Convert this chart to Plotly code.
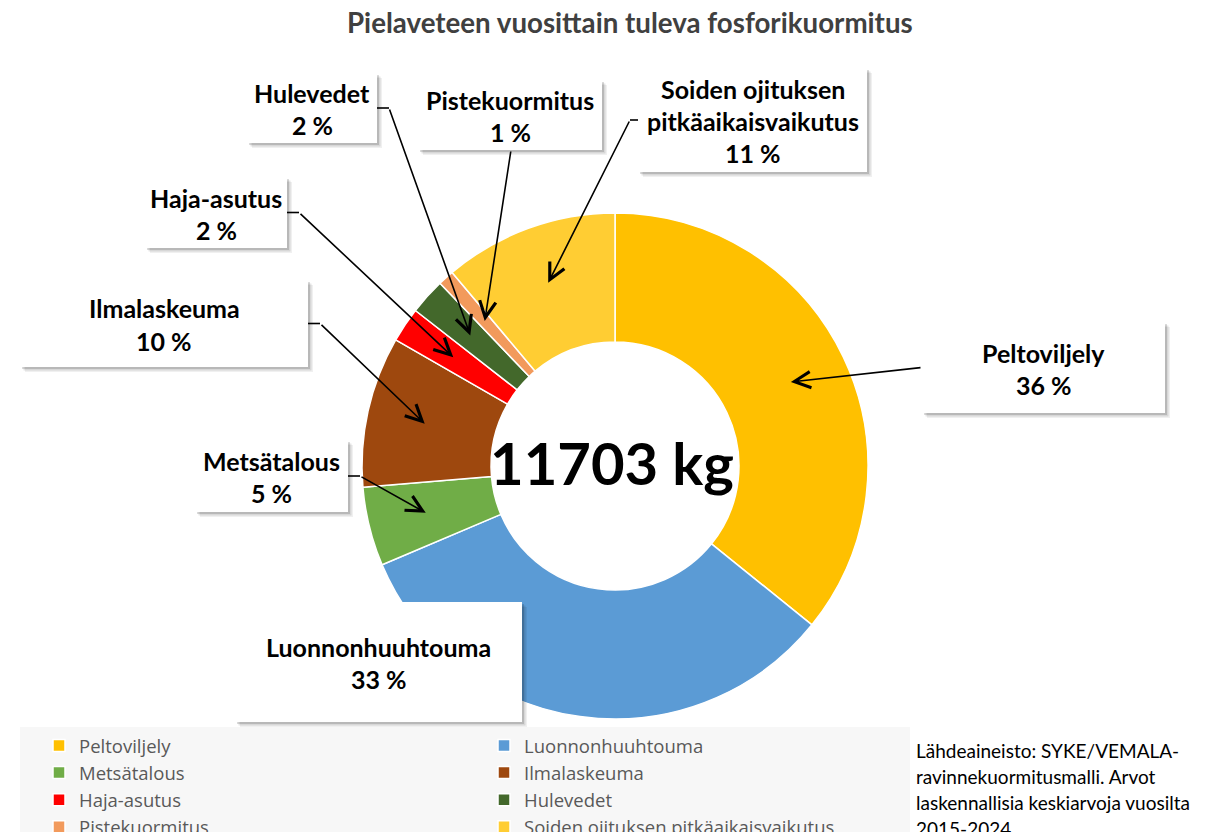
import math
import plotly.graph_objects as go

W, H = 1212, 832

# ---------------- data ----------------
title_text = "Pielaveteen vuosittain tuleva fosforikuormitus"
categories = ["Peltoviljely", "Luonnonhuuhtouma", "Metsätalous", "Ilmalaskeuma",
              "Haja-asutus", "Hulevedet", "Pistekuormitus",
              "Soiden ojituksen pitkäaikaisvaikutus"]
label_lines = [["Peltoviljely"], ["Luonnonhuuhtouma"], ["Metsätalous"], ["Ilmalaskeuma"],
               ["Haja-asutus"], ["Hulevedet"], ["Pistekuormitus"],
               ["Soiden ojituksen", "pitkäaikaisvaikutus"]]
values_kg = [4190, 3840, 590, 1130, 260, 270, 120, 1303]
colors = ["#FFC000", "#5B9BD5", "#70AD47", "#9E480E",
          "#FF0000", "#43682B", "#F29A5C", "#FFCD33"]
source_lines = ["Lähdeaineisto: SYKE/VEMALA-", "ravinnekuormitusmalli. Arvot",
                "laskennallisia keskiarvoja vuosilta", "2015-2024"]

# ---------------- layout constants (pixels) ----------------
CX, CY, R_OUT = 615, 466, 253
HOLE = 0.49
R_IN = R_OUT * HOLE
R_TIP = R_IN + 0.55 * (R_OUT - R_IN)

# label boxes: x0, x1, y0, y1, side where the leader leaves the box
boxes = [
    (922, 1165, 322, 413, "left"),
    (235, 522, 602, 722, None),
    (195, 348, 440, 512, "right"),
    (20, 308, 280, 367, "right"),
    (145, 287, 177, 248, "right"),
    (247, 377, 73, 143, "right"),
    (418, 602, 80, 150, "bottom"),
    (638, 867, 68, 172, "left"),
]

LABEL_FONT = "Lato"


def px(x):
    return x / W


def py(y):
    return 1 - y / H


fig = go.Figure()
fig.add_trace(go.Pie(
    labels=categories,
    values=values_kg,
    marker=dict(colors=colors, line=dict(color="#FFFFFF", width=1.5)),
    hole=HOLE,
    sort=False,
    direction="clockwise",
    rotation=0,
    textinfo="none",
    hoverinfo="label+percent+value",
    domain=dict(x=[px(CX - R_OUT), px(CX + R_OUT)],
                y=[py(CY + R_OUT), py(CY - R_OUT)]),
))

total = sum(values_kg)
shapes = [
    # light grey legend background band
    dict(type="rect", xref="paper", yref="paper",
         x0=px(20), x1=px(910), y0=py(832), y1=py(727),
         fillcolor="#F7F7F7", line=dict(width=0), layer="below"),
]
annotations = []

cum = 0
for i, v in enumerate(values_kg):
    mid = (cum + v / 2) / total * 2 * math.pi
    cum += v
    tip_x = CX + R_TIP * math.sin(mid)
    tip_y = CY - R_TIP * math.cos(mid)
    x0, x1, y0, y1, side = boxes[i]
    bx, by = (x0 + x1) / 2, (y0 + y1) / 2
    # soft shadow
    for off, op in ((5, 0.06), (3.5, 0.1), (2, 0.14)):
        shapes.append(dict(type="rect", xref="paper", yref="paper",
                           x0=px(x0 + off), x1=px(x1 + off), y0=py(y1 + off), y1=py(y0 + off),
                           fillcolor=f"rgba(0,0,0,{op})", line=dict(width=0), layer="above"))
    shapes.append(dict(type="rect", xref="paper", yref="paper",
                       x0=px(x0), x1=px(x1), y0=py(y1), y1=py(y0),
                       fillcolor="#FFFFFF", line=dict(width=0), layer="above"))
    pct = round(v / total * 100)
    lines = label_lines[i] + [f"{pct} %"]
    n = len(lines)
    for j, t in enumerate(lines):
        ly = by + 1 + (j - (n - 1) / 2) * 32
        annotations.append(dict(x=px(bx), y=py(ly), xref="paper", yref="paper",
                                text=f"<b>{t}</b>", showarrow=False,
                                xanchor="center", yanchor="middle",
                                font=dict(family=LABEL_FONT, size=25, color="#000000")))
    if side is None:
        continue
    if side == "left":
        start = (x0, by)
        elbow = (x0 - 8, by)
    elif side == "right":
        start = (x1, by)
        elbow = (x1 + 12, by)
    else:
        start = (bx + 1, y1)
        elbow = (bx + 1, y1)
    if side == "left" and i == 0:
        elbow = start
    shapes.append(dict(type="path", xref="paper", yref="paper",
                       path=f"M {px(start[0])},{py(start[1])} L {px(elbow[0])},{py(elbow[1])}",
                       line=dict(color="#000000", width=1.6), layer="above"))
    annotations.append(dict(x=px(tip_x), y=py(tip_y), xref="paper", yref="paper",
                            text="", showarrow=True, arrowhead=5, arrowsize=2,
                            arrowwidth=1.6, arrowcolor="#000000", standoff=0,
                            ax=elbow[0] - tip_x, ay=elbow[1] - tip_y))

# centre total
annotations.append(dict(x=px(CX - 3), y=py(CY - 4), xref="paper", yref="paper",
                        text=f"<b>{total} kg</b>", showarrow=False,
                        xanchor="center", yanchor="middle",
                        font=dict(family=LABEL_FONT, size=58, color="#000000")))
# title
annotations.append(dict(x=px(630), y=py(22), xref="paper", yref="paper",
                        text=f"<b>{title_text}</b>", showarrow=False,
                        xanchor="center", yanchor="middle",
                        font=dict(family=LABEL_FONT, size=27.7, color="#404040")))
# source text
for k, t in enumerate(source_lines):
    annotations.append(dict(x=px(914), y=py(750 + 26 * k), xref="paper", yref="paper",
                            text=t, showarrow=False, xanchor="left", yanchor="middle",
                            font=dict(family=LABEL_FONT, size=19, color="#000000")))

fig.update_layout(
    width=W, height=H,
    margin=dict(l=0, r=0, t=0, b=0, autoexpand=False),
    paper_bgcolor="#FFFFFF",
    plot_bgcolor="#FFFFFF",
    shapes=shapes,
    annotations=annotations,
    showlegend=True,
    legend=dict(orientation="h", x=px(39), xanchor="left", y=py(727), yanchor="top",
                entrywidth=400, entrywidthmode="pixels", traceorder="normal",
                font=dict(family="Open Sans", size=18.5, color="#595959"),
                bgcolor="rgba(0,0,0,0)", itemclick=False, itemdoubleclick=False),
)

fig.write_html("out.html", config={"displayModeBar": False},
               post_script="document.body.style.margin='0px';")
